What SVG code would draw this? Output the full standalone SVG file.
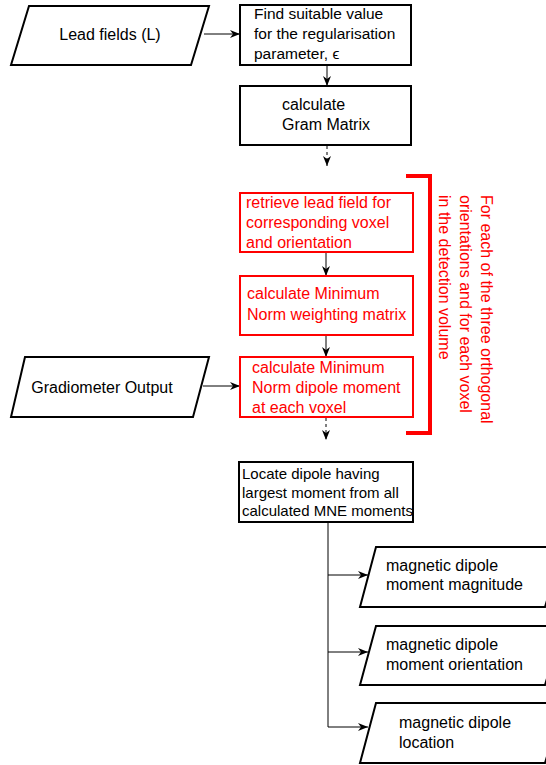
<svg xmlns="http://www.w3.org/2000/svg" width="546" height="765" viewBox="0 0 546 765">
<style>
text{font-family:"Liberation Sans",Arial,sans-serif;font-size:16px;fill:#000}
.r text,text.r{fill:#ff0000}
.box{fill:#fff;stroke:#000;stroke-width:2}
.rbox{fill:#fff;stroke:#ff0000;stroke-width:2}
.edge{fill:none;stroke:#000;stroke-width:1}
.dash{stroke-dasharray:3,3}
.sm{font-size:15px}
</style>
<defs>
<marker id="arr" viewBox="0 0 10 10" refX="10" refY="5" markerWidth="10" markerHeight="10" markerUnits="userSpaceOnUse" orient="auto">
<path d="M0,1 L10,5 L0,9 L3,5 z" fill="#000"/>
</marker>
</defs>
<g id="connectors">
<line class="edge" x1="204" y1="34" x2="240" y2="34" marker-end="url(#arr)"/>
<line class="edge" x1="327" y1="65" x2="327" y2="86" marker-end="url(#arr)"/>
<line class="edge dash" x1="327" y1="146" x2="327" y2="166" marker-end="url(#arr)"/>
<line class="edge" x1="326" y1="252" x2="326" y2="276" marker-end="url(#arr)"/>
<line class="edge" x1="326" y1="335" x2="326" y2="357" marker-end="url(#arr)"/>
<line class="edge" x1="203" y1="386" x2="240" y2="386" marker-end="url(#arr)"/>
<line class="edge dash" x1="326" y1="418" x2="326" y2="440" marker-end="url(#arr)"/>
<polyline class="edge" points="328,522 328,727 368,727" marker-end="url(#arr)"/>
<line class="edge" x1="328" y1="575" x2="368" y2="575" marker-end="url(#arr)"/>
<line class="edge" x1="328" y1="652" x2="368" y2="652" marker-end="url(#arr)"/>
</g>
<g id="lead-fields">
<polygon class="box" points="29,6 209,6 191,65 11,65"/>
<text x="110" y="40" text-anchor="middle">Lead fields (L)</text>
</g>
<g id="find-epsilon">
<rect class="box" x="240" y="5" width="171" height="60"/>
<text x="254" y="19" style="font-size:15.5px">Find suitable value</text>
<text x="254" y="39" style="font-size:15.5px">for the regularisation</text>
<text x="254" y="59" style="font-size:15.5px">parameter, ϵ</text>
</g>
<g id="gram">
<rect class="box" x="240" y="86" width="171" height="59"/>
<text x="282" y="110">calculate</text>
<text x="282" y="130">Gram Matrix</text>
</g>
<g id="retrieve" class="r">
<rect class="rbox" x="240" y="193" width="173" height="59"/>
<text x="246" y="208">retrieve lead field for</text>
<text x="246" y="228">corresponding voxel</text>
<text x="246" y="248">and orientation</text>
</g>
<g id="weighting" class="r">
<rect class="rbox" x="240" y="276" width="173" height="59"/>
<text x="247" y="299">calculate Minimum</text>
<text x="247" y="320">Norm weighting matrix</text>
</g>
<g id="dipole-moment" class="r">
<rect class="rbox" x="240" y="357" width="173" height="60"/>
<text x="252" y="373">calculate Minimum</text>
<text x="252" y="393">Norm dipole moment</text>
<text x="252" y="413">at each voxel</text>
</g>
<g id="loop-bracket" class="r">
<polyline points="406,176 430,176 430,433 406,433" fill="none" stroke="#ff0000" stroke-width="4"/>
<g transform="translate(481,195) rotate(90)">
<text x="0" y="0">For each of the three orthogonal</text>
<text x="0" y="21">orientations and for each voxel</text>
<text x="0" y="42">in the detection volume</text>
</g>
</g>
<g id="gradiometer">
<polygon class="box" points="25,357 209,357 193,417 11,417"/>
<text x="102" y="393" text-anchor="middle">Gradiometer Output</text>
</g>
<g id="locate">
<rect class="box" x="239" y="462" width="174" height="60"/>
<text x="242" y="479" class="sm">Locate dipole having</text>
<text x="242" y="498" class="sm">largest moment from all</text>
<text x="242" y="516" class="sm">calculated MNE moments</text>
</g>
<g id="out-magnitude">
<polygon class="box" points="376,547 563,547 545,607 360,607"/>
<text x="386" y="571">magnetic dipole</text>
<text x="386" y="590">moment magnitude</text>
</g>
<g id="out-orientation">
<polygon class="box" points="376,626 563,626 545,685 360,685"/>
<text x="386" y="650">magnetic dipole</text>
<text x="386" y="670">moment orientation</text>
</g>
<g id="out-location">
<polygon class="box" points="376,703 563,703 545,763 360,763"/>
<text x="399" y="728">magnetic dipole</text>
<text x="399" y="748">location</text>
</g>
</svg>
